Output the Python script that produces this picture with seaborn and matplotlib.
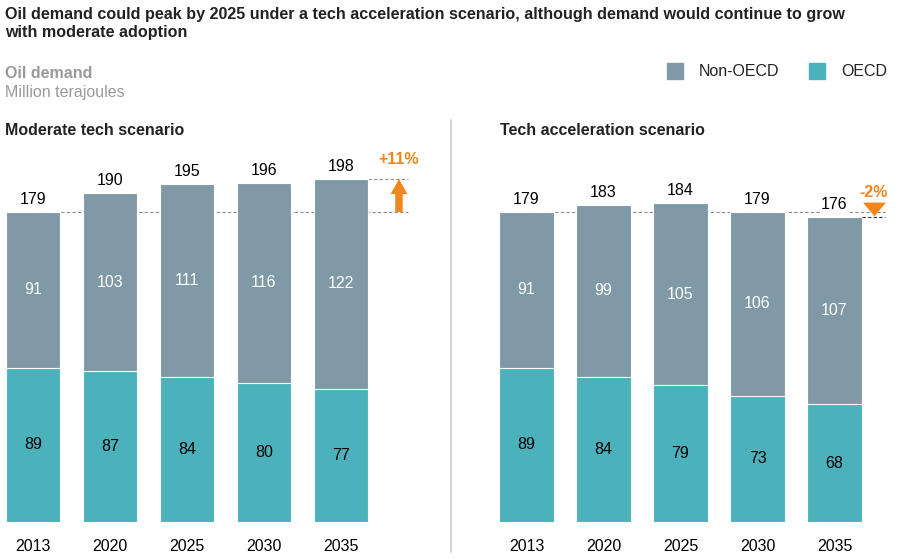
import matplotlib
matplotlib.use("Agg")
import matplotlib.pyplot as plt
import seaborn as sns
import pandas as pd

# data
years = ["2013", "2020", "2025", "2030", "2035"]
moderate_oecd = [89, 87, 84, 80, 77]
moderate_non_oecd = [91, 103, 111, 116, 122]
moderate_total = [179, 190, 195, 196, 198]
accel_oecd = [89, 84, 79, 73, 68]
accel_non_oecd = [91, 99, 105, 106, 107]
accel_total = [179, 183, 184, 179, 176]
change_labels = ["+11%", "-2%"]

NON_OECD = "#7f9aa6"
OECD = "#4bb1ba"
ORANGE = "#f0861e"
GREY_TXT = "#9a9a9a"

sns.set_theme(style="white")
plt.rcParams["font.family"] = ["Liberation Sans", "DejaVu Sans"]
NARROW = ["Liberation Sans Narrow", "Liberation Sans", "DejaVu Sans"]

fig = plt.figure(figsize=(9, 5.6), dpi=100)
W, H = 900, 560
PX_PER_UNIT = 1.732
bottom_px, top_px = 522, 150


def make_axes(left_px, right_px, first_center_px):
    ax = fig.add_axes([left_px / W, (H - bottom_px) / H,
                       (right_px - left_px) / W, (bottom_px - top_px) / H])
    return ax, (left_px - first_center_px) / 77, (right_px - first_center_px) / 77


def draw_panel(ax, xlo, xhi, oecd, non_oecd, total):
    df = pd.DataFrame({"year": years, "oecd": oecd, "non_oecd": non_oecd, "total": total})
    sns.barplot(data=df, x="year", y="total", color=NON_OECD, saturation=1,
                width=0.71, edgecolor="white", linewidth=0.8, ax=ax, zorder=3)
    sns.barplot(data=df, x="year", y="oecd", color=OECD, saturation=1,
                width=0.71, edgecolor="white", linewidth=0.8, ax=ax, zorder=3)
    for i, row in df.iterrows():
        ax.text(i, row["oecd"] / 2, str(row["oecd"]), ha="center", va="center",
                fontsize=11.5, color="black", zorder=5)
        ax.text(i, row["oecd"] + (row["total"] - row["oecd"]) / 2, str(row["non_oecd"]),
                ha="center", va="center", fontsize=11.5, color="white", zorder=5)
        ax.text(i, row["total"] + 7.2, str(row["total"]), ha="center", va="center",
                fontsize=11.5, color="black", zorder=5,
                bbox=dict(facecolor="white", edgecolor="none", pad=0.5))
    ax.set_xlim(xlo, xhi)
    ax.set_ylim(0, (bottom_px - top_px) / PX_PER_UNIT)
    ax.set_xlabel("")
    ax.set_ylabel("")
    ax.set_yticks([])
    ax.tick_params(axis="x", length=0, pad=12, labelsize=11.5, colors="black")
    sns.despine(ax=ax, left=True, bottom=True)
    ax.patch.set_alpha(0)


# left panel: moderate tech
ax1, lo1, hi1 = make_axes(0, 440, 33)
draw_panel(ax1, lo1, hi1, moderate_oecd, moderate_non_oecd, moderate_total)
ax1.hlines(moderate_total[0], 0, 4.87, colors="#8c8c8c", linestyles=(0, (3, 2)),
           linewidth=0.8, zorder=1)
ax1.hlines(moderate_total[-1], 4.355, 4.87, colors="#8c8c8c", linestyles=(0, (3, 2)),
           linewidth=0.8, zorder=1)
ax1.annotate("", xy=(4.753, moderate_total[-1]), xytext=(4.753, moderate_total[0]),
             arrowprops=dict(arrowstyle="simple,head_width=1.0,head_length=0.9,tail_width=0.45",
                             color=ORANGE, lw=0, shrinkA=0, shrinkB=0), zorder=4)
ax1.text(4.753, moderate_total[-1] + 11.5, change_labels[0], ha="center", va="center",
         fontsize=11.5, fontweight="bold", color=ORANGE, family=NARROW)

# right panel: tech acceleration
ax2, lo2, hi2 = make_axes(490, 900, 526.5)
draw_panel(ax2, lo2, hi2, accel_oecd, accel_non_oecd, accel_total)
ax2.hlines(accel_total[0], 0, 4.656, colors="#8c8c8c", linestyles=(0, (3, 2)),
           linewidth=0.8, zorder=1)
ax2.hlines(accel_total[-1], 4.355, 4.656, colors="#333333", linestyles=(0, (3, 2)),
           linewidth=0.8, zorder=4)
tri = [(-1, 0.6), (1, 0.6), (0, -0.6)]
ax2.scatter([4.513], [accel_total[-1] + 4.6], marker=tri, s=275, color=ORANGE,
            linewidths=0, zorder=5)
ax2.text(4.513, accel_total[-1] + 14, change_labels[1], ha="center", va="center",
         fontsize=11.5, fontweight="bold", color=ORANGE, family=NARROW)

# headings and notes
fig.text(5 / W, 1 - 15 / H, "Oil demand could peak by 2025 under a tech acceleration scenario, "
         "although demand would continue to grow", fontsize=11.6, fontweight="bold",
         color="#222222", va="center", family=NARROW)
fig.text(5 / W, 1 - 33 / H, "with moderate adoption", fontsize=11.6, fontweight="bold",
         color="#222222", va="center", family=NARROW)
fig.text(5 / W, 1 - 73 / H, "Oil demand", fontsize=11.5, fontweight="bold",
         color=GREY_TXT, va="center", family=NARROW)
fig.text(5 / W, 1 - 92 / H, "Million terajoules", fontsize=11.5,
         color=GREY_TXT, va="center", family=NARROW)
fig.text(5 / W, 1 - 130 / H, "Moderate tech scenario", fontsize=11.5, fontweight="bold",
         color="#222222", va="center", family=NARROW)
fig.text(500 / W, 1 - 130 / H, "Tech acceleration scenario", fontsize=11.5, fontweight="bold",
         color="#222222", va="center", family=NARROW)

# legend
for x0, label, col in [(667, "Non-OECD", NON_OECD), (809, "OECD", OECD)]:
    fig.patches.append(plt.Rectangle((x0 / W, 1 - 79 / H), 16 / W, 16 / H,
                                     transform=fig.transFigure, color=col))
    fig.text((x0 + 32) / W, 1 - 71 / H, label, fontsize=11.5, color="#222222",
             va="center", family=NARROW)

# separator between panels
fig.add_artist(plt.Line2D([451 / W, 451 / W], [1 - 120 / H, 1 - 552 / H],
                          transform=fig.transFigure, color="#cccccc", linewidth=1.2))

fig.savefig("out.png", dpi=100)
